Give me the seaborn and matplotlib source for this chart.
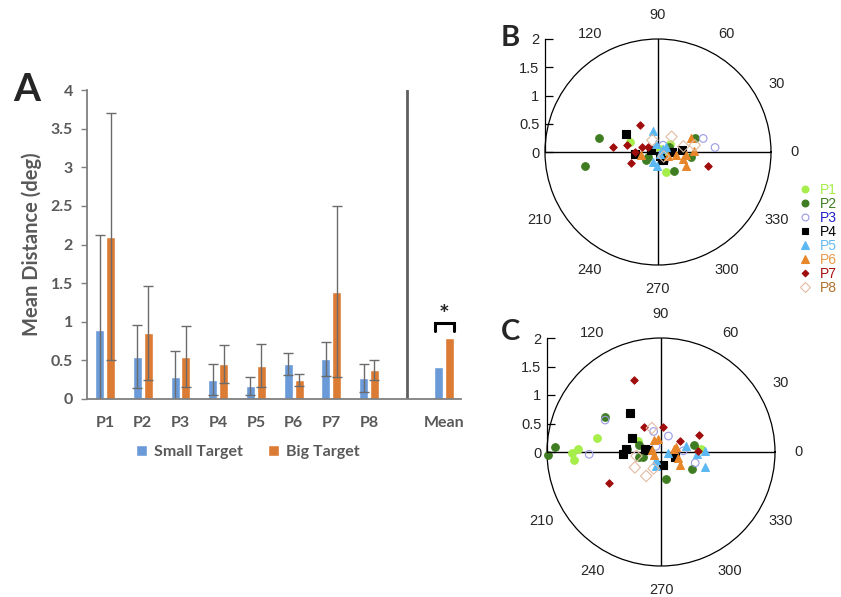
import numpy as np
import pandas as pd
import matplotlib
matplotlib.use('Agg')
import matplotlib.pyplot as plt
from matplotlib.lines import Line2D
import seaborn as sns

# ---- Panel A: mean distance per participant ----
participants = ['P1', 'P2', 'P3', 'P4', 'P5', 'P6', 'P7', 'P8']
small_mean = [0.89, 0.55, 0.28, 0.25, 0.17, 0.45, 0.52, 0.27]
small_sd = [1.23, 0.41, 0.34, 0.20, 0.115, 0.145, 0.22, 0.18]
big_mean = [2.10, 0.85, 0.55, 0.45, 0.43, 0.25, 1.39, 0.38]
big_sd = [1.60, 0.61, 0.39, 0.245, 0.28, 0.08, 1.11, 0.13]
overall_small = 0.41
overall_big = 0.79

# ---- Panels B / C: horizontal and vertical error (deg) per participant ----
b_h = {
    'P1': [-0.49, 0.15, 0.21, 0.03, 0.12],
    'P2': [-1.04, -1.29, 0.28, 0.65, 0.58, -0.21, -0.18, 0.20],
    'P3': [0.80, 1.01, 0.09, 0.12, 0.05],
    'P4': [-0.56, -0.40, -0.12, 0.08, 0.25, 0.43, 0.03],
    'P5': [-0.09, -0.03, -0.09, -0.01, 0.09, 0.03, 0.15],
    'P6': [0.58, 0.63, 0.49, 0.44, 0.49, 0.32, 0.18, -0.30],
    'P7': [-0.32, -0.79, -0.55, -0.47, -0.41, -0.29, -0.18, 0.88],
    'P8': [0.24, -0.10, 0.65, 0.45, 0.10],
}
b_v = {
    'P1': [0.18, -0.36, 0.15, 0.06, 0.02],
    'P2': [0.24, -0.25, -0.33, 0.24, -0.09, -0.15, -0.09, 0.08],
    'P3': [0.24, 0.08, 0.12, -0.15, -0.05],
    'P4': [0.31, -0.04, 0.04, -0.14, 0.00, 0.03, -0.07],
    'P5': [0.38, 0.15, -0.18, -0.25, 0.06, -0.03, 0.09],
    'P6': [0.25, 0.02, -0.05, -0.12, -0.25, -0.05, -0.07, -0.05],
    'P7': [0.47, 0.09, 0.13, -0.20, 0.00, 0.08, 0.09, -0.25],
    'P8': [0.27, 0.21, 0.12, 0.10, -0.08],
}
c_h = {
    'P1': [-1.57, -1.52, -1.45, -1.13, -0.41, 0.71],
    'P2': [-1.98, -1.86, -0.98, -0.60, -0.38, -0.38, -0.31, 0.09, 0.58, 0.55],
    'P3': [-0.98, -1.26, -0.13, 0.13, -0.09, 0.39, 0.60],
    'P4': [-0.54, -0.51, -0.62, -0.67, -0.28, -0.22, 0.03, 0.25],
    'P5': [-0.08, -0.08, 0.13, 0.44, 0.63, 0.78, 0.78],
    'P6': [-0.13, -0.05, -0.12, -0.16, 0.23, 0.27, 0.30, 0.33],
    'P7': [-0.47, -0.29, 0.03, 0.33, 0.67, 0.65, -0.91],
    'P8': [-0.16, -0.43, -0.46, -0.26, -0.13],
}
c_v = {
    'P1': [-0.02, -0.14, 0.05, 0.24, 0.20, 0.05],
    'P2': [-0.05, 0.08, 0.62, 0.06, 0.12, -0.08, -0.09, -0.48, 0.13, -0.29],
    'P3': [0.56, -0.04, 0.36, 0.28, 0.10, 0.02, -0.19],
    'P4': [0.68, 0.24, 0.06, -0.04, 0.05, 0.04, -0.23, -0.09],
    'P5': [-0.14, -0.25, -0.02, 0.10, -0.04, 0.02, -0.26],
    'P6': [0.21, 0.22, -0.05, 0.04, 0.06, 0.08, -0.11, -0.23],
    'P7': [1.27, 0.44, 0.44, 0.20, 0.30, 0.02, -0.54],
    'P8': [0.42, -0.07, -0.27, -0.42, -0.29],
}

# marker style per participant: (marker, colour, filled, size, label colour)
styles = {
    'P1': ('o', '#a6ee4a', True, 30, '#a6ee4a'),
    'P2': ('o', '#3f7d22', True, 30, '#3f7d22'),
    'P3': ('o', '#9a9ae6', False, 30, '#2020c8'),
    'P4': ('s', '#000000', True, 28, '#000000'),
    'P5': ('^', '#5cb8f2', True, 32, '#66bbf0'),
    'P6': ('^', '#e8862a', True, 32, '#e8984a'),
    'P7': ('D', '#a00c0c', True, 14, '#a81010'),
    'P8': ('D', '#e2bca4', False, 34, '#b0702e'),
}

sns.set_theme(style='white')
plt.rcParams['font.family'] = ['Lato', 'DejaVu Sans']

fig = plt.figure(figsize=(8.41, 5.97), dpi=100)
W, H = 841, 597

gray = '#595959'
blue = '#6a9bd8'
orange = '#dc7b33'

# ---------------- Panel A ----------------
axA = fig.add_axes([87 / W, 1 - 399 / H, 374 / W, 309 / H])
order = participants + [' ', 'Mean']
df = pd.DataFrame({
    'group': participants * 2 + ['Mean', 'Mean'],
    'target': ['Small Target'] * 8 + ['Big Target'] * 8 + ['Small Target', 'Big Target'],
    'value': small_mean + big_mean + [overall_small, overall_big],
})
sds = {'Small Target': dict(zip(participants, small_sd)),
       'Big Target': dict(zip(participants, big_sd))}
hue_order = ['Small Target', 'Big Target']
sns.barplot(data=df, x='group', y='value', hue='target', order=order,
            hue_order=hue_order, palette=[blue, orange], width=0.58, gap=0.18,
            errorbar=None, saturation=1, ax=axA)

for cont, hue in zip(axA.containers, hue_order):
    for bar in cont:
        xc = bar.get_x() + bar.get_width() / 2
        name = order[int(round(xc))]
        if name in participants:
            axA.errorbar(xc, bar.get_height(), yerr=sds[hue][name], fmt='none',
                         ecolor='#6b6b6b', elinewidth=1.0, capsize=3.5, capthick=1.0)

axA.set_ylim(0, 4)
axA.set_xlim(-0.48, 9.44)
axA.set_yticks([0, 0.5, 1, 1.5, 2, 2.5, 3, 3.5, 4])
axA.set_yticklabels(['0', '0.5', '1', '1.5', '2', '2.5', '3', '3.5', '4'])
axA.axvline(8, color='#5f5f5f', lw=2)
for s in ['top', 'right']:
    axA.spines[s].set_visible(False)
for s in ['left', 'bottom']:
    axA.spines[s].set_color('#7f7f7f')
    axA.spines[s].set_linewidth(1.3)
axA.tick_params(axis='y', left=True, length=4, width=1, color='#7f7f7f',
                pad=6, labelsize=11.5, labelcolor=gray)
axA.tick_params(axis='x', bottom=False, pad=6, labelsize=11.5, labelcolor=gray)
for lab in axA.get_xticklabels() + axA.get_yticklabels():
    lab.set_fontweight('bold')
axA.set_xlabel('')
axA.set_ylabel('Mean Distance (deg)', fontsize=14.5, fontweight='bold', color=gray, labelpad=6)

# significance bracket over the overall mean
axA.plot([8.74, 8.74, 9.26, 9.26], [0.88, 0.98, 0.98, 0.88], color='black', lw=2.2,
         solid_joinstyle='miter')
axA.text(9.0, 0.93, '*', ha='center', va='bottom', fontsize=18, fontweight='bold')

handles, labels = axA.get_legend_handles_labels()
leg = axA.legend(handles, labels, loc='center', bbox_to_anchor=(0.43, -0.172), ncol=2,
                 frameon=False, handlelength=0.7, handleheight=0.7, handletextpad=0.4,
                 columnspacing=1.6, prop={'weight': 'bold', 'size': 11.5})
for t in leg.get_texts():
    t.set_color(gray)

fig.text(13 / W, 1 - 101 / H, 'A', fontsize=28, fontweight='bold', va='baseline')


# ---------------- Panels B / C ----------------
def polar_panel(cx, cy, rad, hdict, vdict, letter, lx, ly):
    rect = [(cx - rad) / W, 1 - (cy + rad) / H, 2 * rad / W, 2 * rad / H]
    ax = fig.add_axes(rect, projection='polar')
    for p in participants:
        h = np.array(hdict[p])
        v = np.array(vdict[p])
        theta = np.arctan2(v, h)
        r = np.hypot(h, v)
        mk, col, filled, size, _ = styles[p]
        sns.scatterplot(x=theta, y=r, marker=mk, color=col, s=size,
                        edgecolor=col, linewidth=0.8, ax=ax, zorder=3, clip_on=False)
        if not filled:
            ax.collections[-1].set_facecolor('none')
    ax.set_ylim(0, 2)
    ax.set_yticks([])
    ax.set_xticks(np.deg2rad([0, 90, 180, 270]))
    ax.set_xticklabels([])
    ax.grid(True, color='black', lw=1.0)
    ax.spines['polar'].set_color('black')
    ax.spines['polar'].set_linewidth(0.9)
    ax.set_facecolor('none')
    ax.set_xlabel('')
    ax.set_ylabel('')
    for ang in [0, 30, 60, 90, 120, 210, 240, 270, 300, 330]:
        ax.text(np.deg2rad(ang), 2.42, str(ang), ha='center', va='center',
                fontsize=10.5, family=['Liberation Sans', 'DejaVu Sans'])

    # radial scale drawn along the left edge of the circle
    axr = fig.add_axes(rect)
    axr.set_xlim(-2, 2)
    axr.set_ylim(-2, 2)
    axr.patch.set_alpha(0)
    for s in ['top', 'right', 'bottom']:
        axr.spines[s].set_visible(False)
    axr.spines['left'].set_bounds(0, 2)
    axr.spines['left'].set_color('black')
    axr.spines['left'].set_linewidth(0.9)
    axr.set_xticks([])
    axr.set_yticks([0, 0.5, 1, 1.5, 2])
    axr.set_yticklabels(['0', '0.5', '1', '1.5', '2'],
                        family=['Liberation Sans', 'DejaVu Sans'], fontsize=10.5)
    axr.tick_params(axis='y', left=True, direction='in', length=6, width=0.9,
                    color='black', pad=4)
    fig.text(lx / W, 1 - ly / H, letter, fontsize=21, fontweight='bold', va='baseline')
    return ax


polar_panel(658, 152, 113, b_h, b_v, 'B', 501, 46)
polar_panel(661, 452, 114, c_h, c_v, 'C', 501, 340)

# legend for the participants, squeezed against the right edge as in the original
leg_handles = []
for p in participants:
    mk, col, filled, size, _ = styles[p]
    leg_handles.append(Line2D([], [], ls='none', marker=mk, markersize=np.sqrt(size) * 0.9,
                              markerfacecolor=col if filled else 'none',
                              markeredgecolor=col, markeredgewidth=0.8))
legB = fig.legend(leg_handles, participants, loc='upper left',
                  bbox_to_anchor=(791 / W, 1 - 176 / H), frameon=False,
                  handlelength=1.0, handletextpad=0.6, labelspacing=0.0, borderpad=0,
                  prop={'family': ['Liberation Sans', 'DejaVu Sans'], 'size': 10})
for t, p in zip(legB.get_texts(), participants):
    t.set_color(styles[p][4])

fig.savefig('out.png', dpi=100)
